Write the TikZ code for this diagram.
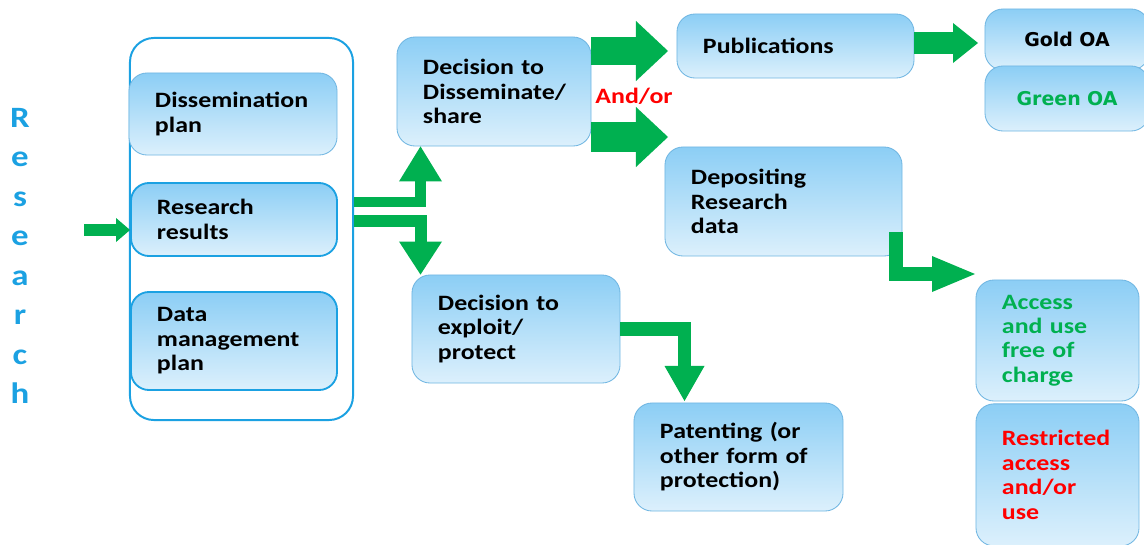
\documentclass[tikz,border=0pt]{standalone}
\usepackage{fontspec}
\setmainfont{Carlito}[FakeStretch=1.18]
\newfontfamily\oafont{DejaVu Sans}
\usepackage{tikz}
\usetikzlibrary{arrows.meta,positioning,calc}
\definecolor{boxtop}  {RGB}{140,206,245}
\definecolor{boxbot}  {RGB}{220,240,252}
\definecolor{boxline} {RGB}{112,182,226}
\definecolor{plancyan}{RGB}{27,161,226}
\definecolor{oagreen} {RGB}{0,176,80}
\definecolor{oared}   {RGB}{255,0,0}
\tikzset{
  stepbox/.style={rounded corners=0.45cm, top color=boxtop, bottom color=boxbot,
                  draw=boxline, line width=0.6pt, align=left, text width=#1,
                  inner xsep=0.65cm, inner ysep=0pt,
                  font=\fontsize{15.6}{17.4}\selectfont\bfseries},
  stepbox/.default=3.9cm,
  planbox/.style={stepbox=3.85cm, draw=plancyan, line width=1.3pt},
  oabox/.style  ={stepbox=2.8cm, align=center,
                  font=\oafont\fontsize{13.5}{16}\selectfont\bfseries},
  letter/.style ={text=plancyan, anchor=base, inner sep=0pt,
                  font=\fontsize{21}{24}\selectfont\bfseries},
  garr/.style n args={3}{draw=oagreen, line width=#1, line join=miter,
                  -{Triangle[width=#2,length=#3,line width=0pt]}},
}

\begin{document}
\begin{tikzpicture}[x=0.025cm, y=-0.025cm]
  \useasboundingbox (0,0) rectangle (1144,545);

  % vertical title
  \foreach \ch [count=\i from 0] in {R,e,s,e,a,r,c,h}
    \node[letter] (r\i) at (20,{127+\i*39.5}) {\ch};

  % plans
  \node[draw=plancyan, line width=1.4pt, rounded corners=0.6cm, fill=white,
        minimum width=5.575cm, minimum height=9.55cm, inner sep=0pt]
        (plans) at (241.5,229) {};
  \node[stepbox=3.9cm, minimum height=2.05cm] (dissplan) at (233,114)
        {Dissemination\\plan};
  \node[planbox, minimum height=1.825cm] (results) at (234,219.5)
        {Research\\results};
  \node[planbox, minimum height=2.45cm] (dmp) at (234,341)
        {Data\\management\\plan};

  % decisions
  \node[stepbox=3.55cm, minimum height=2.725cm] (dissem) at (494,91.5)
        {Decision to\\Disseminate/\\share};
  \node[stepbox=3.9cm, minimum height=2.7cm] (exploit) at (516,329)
        {Decision to\\exploit/\\protect};
  \node[text=oared, font=\fontsize{15.6}{17.4}\selectfont\bfseries]
        (andor) at (634,96) {And/or};

  % outcomes
  \node[stepbox=4.625cm, minimum height=1.6cm] (pub) at (795.5,46)
        {Publications};
  \node[oabox, minimum height=1.525cm] (gold) at (1067,39.5) {Gold OA};
  \node[oabox, text=oagreen, minimum height=1.625cm] (green) at (1067,98.5)
        {Green OA};
  \node[stepbox=4.625cm, minimum height=2.725cm] (depos) at (783.5,201.5)
        {Depositing\\Research\\data};
  \node[stepbox=2.775cm, minimum height=3.025cm, text=oagreen]
        (free) at (1057.5,340.5) {Access\\and use\\free of\\charge};
  \node[stepbox=2.775cm, minimum height=3.55cm, text=oared,
        below=0.05cm of free] (restr) {Restricted\\access\\and/or\\use};
  \node[stepbox=3.925cm, minimum height=2.7cm] (patent) at (738.5,457)
        {Patenting (or\\other form of\\protection)};

  % block arrows
  \coordinate (in)     at (84,230);
  \coordinate (up)     at (420.5,202);
  \coordinate (dn)     at (420.5,221);
  \coordinate (pubin)  at (668,51);
  \coordinate (depin)  at (668,137);
  \coordinate (goldin) at (978,43);
  \coordinate (depout) at (895.5,232);
  \coordinate (freein) at (975,274);
  \coordinate (patin)  at (684.5,401);

  \draw[garr={0.3cm}{0.6cm}{0.35cm}] (in) -- (in -| results.west);
  \draw[garr={0.27cm}{1.075cm}{0.875cm}] (plans.east |- up) -- (up) -- (dissem.south -| up);
  \draw[garr={0.3cm}{1.075cm}{0.825cm}] (plans.east |- dn) -- (dn) -- (exploit.north -| dn);
  \draw[garr={0.72cm}{1.5cm}{0.8cm}] (dissem.east |- pubin) -- (pubin);
  \draw[garr={0.75cm}{1.5cm}{0.8cm}] (dissem.east |- depin) -- (depin);
  \draw[garr={0.525cm}{1.0cm}{0.625cm}] (pub.east |- goldin) -- (goldin);
  \draw[garr={0.35cm}{0.9cm}{1.075cm}] (depout) |- (freein);
  \draw[garr={0.33cm}{1.0cm}{0.875cm}] (exploit.east) -| (patin);
\end{tikzpicture}
\end{document}
